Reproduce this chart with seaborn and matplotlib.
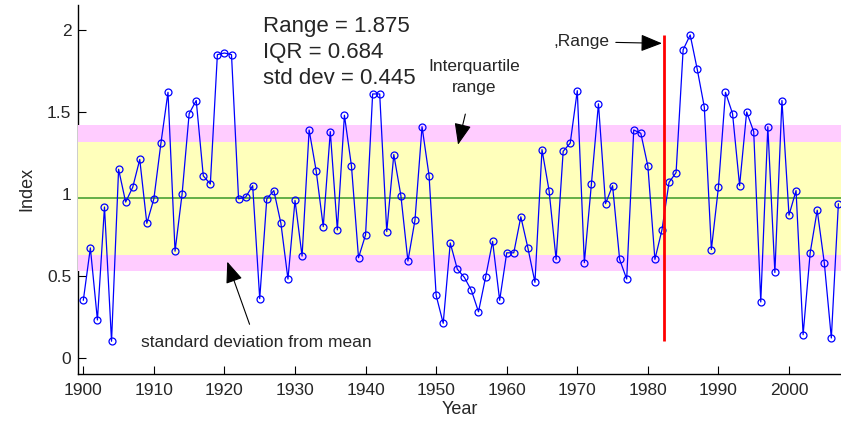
import numpy as np
import seaborn as sns
import matplotlib.pyplot as plt

############# Data #####################################
########################################################
years = list(range(1900, 2008))
index_vals = [
    0.35, 0.67, 0.23, 0.92, 0.10, 1.15, 0.95, 1.04, 1.21, 0.82,   # 1900s
    0.97, 1.31, 1.62, 0.65, 1.00, 1.49, 1.57, 1.11, 1.06, 1.85,   # 1910s
    1.86, 1.85, 0.97, 0.98, 1.05, 0.36, 0.97, 1.02, 0.82, 0.48,   # 1920s
    0.96, 0.62, 1.39, 1.14, 0.80, 1.38, 0.78, 1.48, 1.17, 0.61,   # 1930s
    0.75, 1.61, 1.61, 0.77, 1.24, 0.99, 0.59, 0.84, 1.41, 1.11,   # 1940s
    0.38, 0.21, 0.70, 0.54, 0.49, 0.41, 0.28, 0.49, 0.71, 0.35,   # 1950s
    0.64, 0.64, 0.86, 0.67, 0.46, 1.27, 1.02, 0.60, 1.26, 1.31,   # 1960s
    1.63, 0.58, 1.06, 1.55, 0.94, 1.05, 0.60, 0.48, 1.39, 1.37,   # 1970s
    1.17, 0.60, 0.78, 1.07, 1.13, 1.88, 1.97, 1.76, 1.53, 0.66,   # 1980s
    1.04, 1.62, 1.49, 1.05, 1.50, 1.38, 0.34, 1.41, 0.52, 1.57,   # 1990s
    0.87, 1.02, 0.14, 0.64, 0.90, 0.58, 0.12, 0.94,               # 2000s
]
mean_val = 0.975
std_val = 0.445
q1_val = 0.628
q3_val = 1.316
range_year = 1982.3
stats_lines = ['Range = 1.875', 'IQR = 0.684', 'std dev = 0.445']
y_ticks = [0, 0.5, 1, 1.5, 2]
y_tick_labels = ['0', '0.5', '1', '1.5', '2']
x_ticks = list(range(1900, 2001, 10))

############# Style ####################################
########################################################
sns.set_style('ticks')
plt.rcParams['font.family'] = ['Liberation Sans', 'DejaVu Sans']

fig = plt.figure(figsize=(8.41, 4.25), dpi=100)
ax = fig.add_axes([0.0931, 0.1207, 0.9069, 0.8675])

# bands: mean +/- std (pink) and interquartile range (yellow)
ax.axhspan(mean_val - std_val, mean_val + std_val, color='#ffccff', lw=0, zorder=3)
ax.axhspan(q1_val, q3_val, color='#ffffbb', lw=0, zorder=3)
ax.axhline(mean_val, color='#3a9a2a', lw=1.1, zorder=4)

# index series
sns.lineplot(x=years, y=index_vals, ax=ax, color='#0000ff', lw=0.9,
             marker='o', markersize=5, markerfacecolor='none',
             markeredgecolor='#0000ff', markeredgewidth=0.9, zorder=5)

# range bar
ax.vlines(range_year, min(index_vals), max(index_vals), color='#ff0000', lw=2, zorder=6)

############# Annotations ##############################
########################################################
arrow_kw = dict(arrowstyle='-|>,head_length=0.55,head_width=0.22', color='black',
                lw=0.8, mutation_scale=24, shrinkB=0)

ax.text(1925.4, 1.862, '\n'.join(stats_lines), fontsize=16, va='center', ha='left',
        linespacing=1.32, zorder=7)
ax.annotate('Interquartile\nrange', xy=(1953.1, 1.30), xytext=(1955.4, 1.716),
            fontsize=12.5, ha='center', va='center', multialignment='center',
            linespacing=1.5, zorder=7, arrowprops=dict(arrow_kw, shrinkA=12))
ax.annotate('standard deviation from mean', xy=(1920.4, 0.586), xytext=(1924.5, 0.09),
            fontsize=12.5, ha='center', va='center', zorder=7,
            arrowprops=dict(arrow_kw, shrinkA=6))
ax.annotate(',Range', xy=(1982.0, 1.919), xytext=(1974.6, 1.929),
            fontsize=12.5, ha='right', va='center', zorder=7,
            arrowprops=dict(arrow_kw, shrinkA=2))

############# Axes #####################################
########################################################
ax.set_xlim(1899.29, 2007.37)
ax.set_ylim(-0.098, 2.153)
ax.set_xticks(x_ticks)
ax.set_yticks(y_ticks)
ax.set_yticklabels(y_tick_labels)
ax.tick_params(direction='in', length=6, width=0.8, labelsize=12.5, color='black')
ax.tick_params(axis='x', pad=7)
ax.tick_params(axis='y', pad=5)
ax.set_xlabel('Year', fontsize=13, labelpad=2)
ax.set_ylabel('Index', fontsize=13, labelpad=8)
sns.despine(ax=ax)
for side in ['left', 'bottom']:
    ax.spines[side].set_linewidth(1.0)
    ax.spines[side].set_color('black')
    ax.spines[side].set_zorder(2)

plt.savefig('out.png', dpi=100)
